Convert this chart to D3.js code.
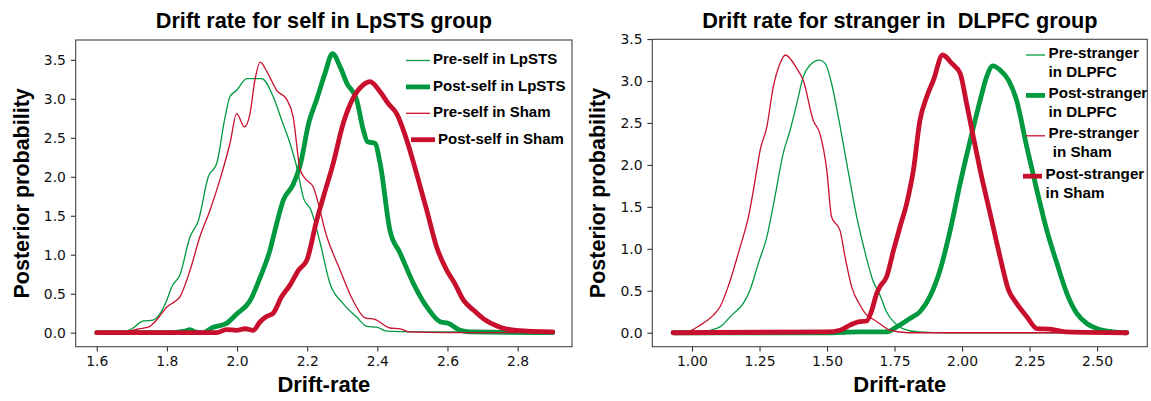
<!DOCTYPE html>
<html>
<head>
<meta charset="utf-8">
<script src="https://cdn.jsdelivr.net/npm/d3@7"></script>
<style>
  body { margin: 0; background: #fff; }
  .tick text { font-family: "DejaVu Sans", sans-serif; font-size: 13.9px; fill: #111; }
  .tick line { stroke: #333; stroke-width: 1.1; }
  .bold { font-family: "Liberation Sans", Arial, sans-serif; font-weight: bold; fill: #000; }
</style>
</head>
<body>
<svg id="chart" width="1151" height="401"></svg>
<script>
// ---- data: [drift-rate, density] ----
const preSelfLpSTS = [[1.60,0],[1.66,0],[1.70,0.05],[1.733,0.15],[1.76,0.16],[1.78,0.24],[1.80,0.42],
  [1.814,0.59],[1.837,0.74],[1.866,1.23],[1.89,1.44],[1.918,2.0],[1.942,2.17],[1.966,2.77],[1.98,3.03],
  [1.999,3.11],[2.028,3.26],[2.05,3.26],[2.07,3.26],[2.103,3.03],[2.127,2.73],[2.151,2.43],[2.17,2.13],
  [2.19,1.72],[2.21,1.58],[2.237,1.15],[2.265,0.63],[2.303,0.37],[2.341,0.20],[2.37,0.08],[2.398,0.07],
  [2.427,0.02],[2.5,0.01],[2.7,0.01],[2.9,0.0]];
const postSelfLpSTS = [[1.6,0],[1.8,0],[1.85,0.02],[1.866,0.04],[1.88,0.01],[1.9,0.0],[1.932,0.07],
  [1.97,0.12],[1.999,0.24],[2.037,0.41],[2.066,0.71],[2.094,1.06],[2.113,1.40],[2.132,1.70],[2.16,1.90],
  [2.18,2.15],[2.205,2.70],[2.227,2.99],[2.251,3.33],[2.272,3.58],[2.294,3.41],[2.313,3.2],[2.341,2.99],
  [2.36,2.6],[2.372,2.45],[2.393,2.43],[2.408,2.17],[2.436,1.31],[2.465,1.02],[2.503,0.63],[2.541,0.33],
  [2.579,0.14],[2.602,0.12],[2.636,0.03],[2.664,0.01],[2.9,0.0]];
const preSelfSham = [[1.6,0],[1.68,0.01],[1.72,0.05],[1.747,0.07],[1.77,0.16],[1.8,0.33],[1.823,0.40],
  [1.837,0.46],[1.866,0.8],[1.894,1.23],[1.923,1.57],[1.951,1.96],[1.98,2.43],[1.999,2.81],[2.021,2.64],
  [2.037,2.81],[2.051,3.24],[2.066,3.47],[2.085,3.35],[2.113,3.11],[2.142,2.99],[2.16,2.77],[2.18,2.09],
  [2.194,1.98],[2.217,1.87],[2.256,1.23],[2.294,0.80],[2.331,0.41],[2.365,0.19],[2.393,0.17],[2.436,0.06],
  [2.465,0.05],[2.493,0.01],[2.6,0.0],[2.9,0.0]];
const postSelfSham = [[1.6,0],[1.9,0],[1.942,0.0],[1.97,0.04],[1.999,0.03],[2.023,0.05],[2.046,0.03],
  [2.066,0.14],[2.085,0.21],[2.103,0.25],[2.127,0.46],[2.151,0.61],[2.175,0.80],[2.199,0.93],[2.227,1.44],
  [2.246,1.74],[2.274,2.17],[2.303,2.69],[2.331,3.01],[2.36,3.18],[2.379,3.22],[2.408,3.09],[2.431,2.94],
  [2.455,2.81],[2.484,2.47],[2.512,2.04],[2.541,1.57],[2.569,1.10],[2.598,0.80],[2.621,0.63],[2.645,0.42],
  [2.674,0.29],[2.702,0.18],[2.75,0.07],[2.797,0.03],[2.9,0.01]];

const preStrangerDLPFC = [[0.93,0],[1.0,0],[1.042,0.01],[1.08,0.04],[1.104,0.07],[1.147,0.21],[1.19,0.35],
  [1.215,0.51],[1.246,0.83],[1.277,1.14],[1.307,1.62],[1.338,2.14],[1.363,2.41],[1.388,2.73],[1.412,3.05],
  [1.437,3.19],[1.472,3.25],[1.493,3.21],[1.517,2.97],[1.542,2.57],[1.573,2.02],[1.61,1.38],[1.647,0.88],
  [1.67,0.62],[1.696,0.45],[1.72,0.25],[1.75,0.12],[1.78,0.05],[1.84,0.01],[1.95,0],[2.61,0]];
const postStrangerDLPFC = [[0.93,0],[1.5,0],[1.622,0.01],[1.721,0.01],[1.758,0.07],[1.807,0.17],
  [1.844,0.25],[1.881,0.43],[1.919,0.75],[1.956,1.22],[1.993,1.78],[2.03,2.29],[2.067,2.77],[2.091,3.05],
  [2.114,3.18],[2.141,3.13],[2.172,3.01],[2.202,2.77],[2.24,2.21],[2.277,1.70],[2.314,1.22],[2.351,0.83],
  [2.388,0.47],[2.425,0.23],[2.462,0.11],[2.499,0.05],[2.56,0.01],[2.61,0]];
const preStrangerSham = [[0.93,0],[0.98,0.01],[1.03,0.09],[1.079,0.21],[1.104,0.31],[1.134,0.55],
  [1.178,1.02],[1.209,1.38],[1.24,1.94],[1.252,2.17],[1.277,2.45],[1.301,2.93],[1.326,3.21],[1.346,3.31],
  [1.388,3.15],[1.412,3.01],[1.449,2.53],[1.474,2.37],[1.499,1.94],[1.517,1.38],[1.548,1.22],[1.567,0.90],
  [1.591,0.55],[1.622,0.33],[1.65,0.2],[1.671,0.16],[1.703,0.09],[1.733,0.03],[1.8,0],[2.61,0]];
const postStrangerSham = [[0.93,0],[1.499,0.01],[1.548,0.03],[1.585,0.09],[1.616,0.13],[1.647,0.14],
  [1.666,0.27],[1.684,0.47],[1.696,0.55],[1.721,0.67],[1.746,0.98],[1.77,1.26],[1.795,1.54],[1.82,1.94],
  [1.844,2.53],[1.869,2.81],[1.894,3.01],[1.928,3.31],[1.962,3.21],[1.993,3.09],[2.017,2.73],[2.042,2.33],
  [2.067,1.94],[2.104,1.42],[2.141,0.90],[2.172,0.51],[2.202,0.35],[2.24,0.19],[2.277,0.05],[2.332,0.04],
  [2.388,0.01],[2.61,0]];

const leftXTicks = [1.6, 1.8, 2.0, 2.2, 2.4, 2.6, 2.8];
const rightXTicks = [1.00, 1.25, 1.50, 1.75, 2.00, 2.25, 2.50];
const yTicks = [0, 0.5, 1.0, 1.5, 2.0, 2.5, 3.0, 3.5];

const leftLegend = ['Pre-self in LpSTS', 'Post-self in LpSTS', 'Pre-self in Sham', 'Post-self in Sham'];
const rightLegend = [['Pre-stranger', 'in DLPFC'], ['Post-stranger', 'in DLPFC'],
  ['Pre-stranger', ' in Sham'], ['Post-stranger', 'in Sham']];

const GREEN = '#00993f', RED = '#c8102e';
const styles = [{color: GREEN, w: 1.3}, {color: GREEN, w: 4.8}, {color: RED, w: 1.3}, {color: RED, w: 4.8}];

const svg = d3.select('#chart');

function drawPanel(opt) {
  const x = d3.scaleLinear().domain(opt.xDomain).range([opt.left, opt.right]);
  const y = d3.scaleLinear().domain(opt.yDomain).range([opt.bottom, opt.top]);
  const g = svg.append('g');

  g.append('g').attr('transform', `translate(0,${opt.bottom})`)
      .call(d3.axisBottom(x).tickValues(opt.xTicks).tickFormat(d3.format(opt.xFmt))
          .tickSize(4.9).tickPadding(4.4).tickSizeOuter(0))
      .call(a => a.select('.domain').remove());
  g.append('g').attr('transform', `translate(${opt.left},0)`)
      .call(d3.axisLeft(y).tickValues(yTicks).tickFormat(d3.format('.1f'))
          .tickSize(4.9).tickPadding(4.9).tickSizeOuter(0))
      .call(a => a.select('.domain').remove());

  const line = d3.line().x(d => x(d[0])).y(d => y(d[1])).curve(d3.curveMonotoneX);
  const clipId = 'clip' + Math.round(opt.left);
  g.append('clipPath').attr('id', clipId).append('rect')
      .attr('x', opt.left).attr('y', opt.top)
      .attr('width', opt.right - opt.left).attr('height', opt.bottom - opt.top);
  g.append('g').attr('clip-path', `url(#${clipId})`)
      .selectAll('path').data(opt.series).join('path')
      .attr('d', line)
      .attr('fill', 'none')
      .attr('stroke', (d, i) => styles[i].color)
      .attr('stroke-width', (d, i) => styles[i].w)
      .attr('stroke-linejoin', 'round')
      .attr('stroke-linecap', 'round');

  g.append('rect').attr('x', opt.left).attr('y', opt.top)
      .attr('width', opt.right - opt.left).attr('height', opt.bottom - opt.top)
      .attr('fill', 'none').attr('stroke', '#444').attr('stroke-width', 1.1);

  const cx = (opt.left + opt.right) / 2;
  g.append('text').attr('class', 'bold').attr('x', cx).attr('y', 28)
      .attr('text-anchor', 'middle').style('font-size', '21.7px').text(opt.title);
  g.append('text').attr('class', 'bold').attr('x', cx).attr('y', 392)
      .attr('text-anchor', 'middle').style('font-size', '22px').text('Drift-rate');
  g.append('text').attr('class', 'bold')
      .attr('transform', `translate(${opt.left - 47},${(opt.top + opt.bottom) / 2}) rotate(-90)`)
      .attr('text-anchor', 'middle').style('font-size', '21.5px').text('Posterior probability');
  return g;
}

const left = drawPanel({
  left: 75.7, right: 572, top: 40, bottom: 346.7,
  xDomain: [1.54, 2.955], yDomain: [-0.18, 3.755],
  xTicks: leftXTicks, xFmt: '.1f',
  series: [preSelfLpSTS, postSelfLpSTS, preSelfSham, postSelfSham],
  title: 'Drift rate for self in LpSTS group'
});
const right = drawPanel({
  left: 652.3, right: 1147.3, top: 39.3, bottom: 346.7,
  xDomain: [0.853, 2.686], yDomain: [-0.1665, 3.497],
  xTicks: rightXTicks, xFmt: '.2f',
  series: [preStrangerDLPFC, postStrangerDLPFC, preStrangerSham, postStrangerSham],
  title: 'Drift rate for stranger in\u00a0 DLPFC group'
});

// legends
const lg = left.append('g');
leftLegend.forEach((name, i) => {
  const yy = 60.5 + i * 26.4;
  const dx = i === 3 ? 5 : 0;
  lg.append('line').attr('x1', 406 + dx).attr('x2', 430 + dx).attr('y1', yy).attr('y2', yy)
      .attr('stroke', styles[i].color).attr('stroke-width', styles[i].w);
  lg.append('text').attr('class', 'bold').attr('x', 433 + dx).attr('y', yy + 3.8)
      .style('font-size', '15px').text(name);
});
const rg = right.append('g');
rightLegend.forEach((lines, i) => {
  const yy = 55 + i * 40.4;
  const dx = i === 3 ? -3 : 0;
  rg.append('line').attr('x1', 1026 + dx).attr('x2', 1045 + dx).attr('y1', yy).attr('y2', yy)
      .attr('stroke', styles[i].color).attr('stroke-width', styles[i].w);
  rg.append('text').attr('class', 'bold').attr('x', 1048.5 + dx).attr('y', yy + 2.5)
      .style('font-size', '15.2px').style('white-space', 'pre')
      .selectAll('tspan').data(lines).join('tspan')
      .attr('x', 1048.5 + dx).attr('dy', (d, j) => j ? 19 : 0).text(d => d);
});
</script>
</body>
</html>
